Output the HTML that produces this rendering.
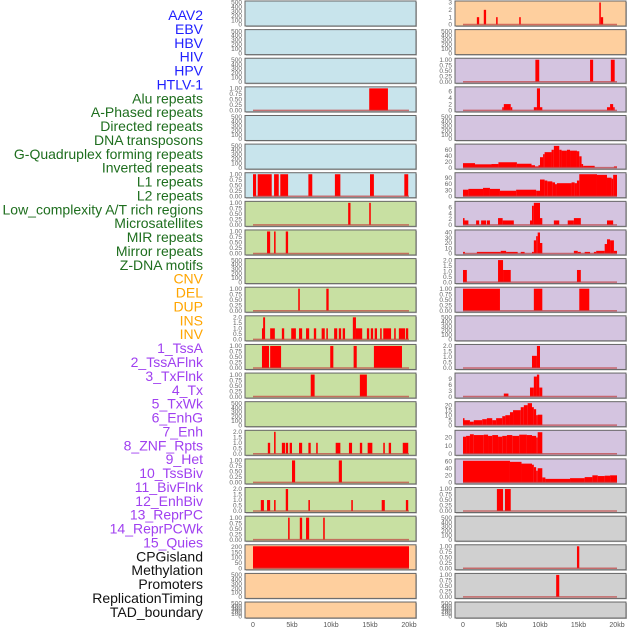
<!DOCTYPE html>
<html><head><meta charset="utf-8">
<style>
body{margin:0;background:#fff;}
svg{display:block;font-family:"Liberation Sans",sans-serif;}
</style></head>
<body>
<svg id="chart" width="630" height="630" viewBox="0 0 630 630" xmlns="http://www.w3.org/2000/svg">
<g id="labels"></g><g id="panels"></g>
</svg>
<script>
const trackLabels = ["AAV2","EBV","HBV","HIV","HPV","HTLV-1","Alu repeats","A-Phased repeats","Directed repeats","DNA transposons","G-Quadruplex forming repeats","Inverted repeats","L1 repeats","L2 repeats","Low_complexity A/T rich regions","Microsatellites","MIR repeats","Mirror repeats","Z-DNA motifs","CNV","DEL","DUP","INS","INV","1_TssA","2_TssAFlnk","3_TxFlnk","4_Tx","5_TxWk","6_EnhG","7_Enh","8_ZNF_Rpts","9_Het","10_TssBiv","11_BivFlnk","12_EnhBiv","13_ReprPC","14_ReprPCWk","15_Quies","CPGisland","Methylation","Promoters","ReplicationTiming","TAD_boundary"];
const labelColors = ["#2020ff","#1e6e1e","#ffa500","#a040f0","#111"];
const labelGroups = [0,0,0,0,0,0,1,1,1,1,1,1,1,1,1,1,1,1,1,2,2,2,2,2,3,3,3,3,3,3,3,3,3,3,3,3,3,3,3,4,4,4,4,4];
const xTickLabels = ["0","5kb","10kb","15kb","20kb"];
const xTickValues = [0,5,10,15,20];

const tickE = [0,100,200,300,400,500];
const tick1 = [0,0.25,0.5,0.75,1];
const tick2 = [0,0.5,1,1.5,2];

// left column
const leftBg = ["#c8e4ec","#c8e4ec","#c8e4ec","#c8e4ec","#c8e4ec","#c8e4ec","#c8e4ec",
 "#c8e0a2","#c8e0a2","#c8e0a2","#c8e0a2","#c8e0a2","#c8e0a2","#c8e0a2","#c8e0a2","#c8e0a2","#c8e0a2","#c8e0a2","#c8e0a2",
 "#fecf9e","#fecf9e","#fecf9e"];
const leftTicks = [tickE,tickE,tickE,tick1,tickE,tickE,tick1,tick1,tick1,tickE,tick1,tick2,tick1,tick1,tickE,tick2,tick1,tick2,tick1,[0,50,100,150,200],tickE,tickE];
const leftMax = [500,500,500,1,500,500,1,1,1,500,1,2,1,1,500,2,1,2,1,205,500,500];
const leftSegs = [
 [],[],[],
 [[14.9,17.3,1]],
 [],[],
 [[0,0.4,1],[0.6,2.4,1],[2.7,3.3,1],[3.5,4.5,1],[7.1,7.6,1],[10.5,11.2,1],[15,15.5,1],[19.4,19.9,1]],
 [[12.2,12.5,1],[14.9,15.1,1]],
 [[1.8,2.2,1],[2.7,2.9,1],[4.2,4.5,1]],
 [],
 [[5.8,6.0,1],[9.4,9.7,1]],
 [[1.15,1.3,1],[1.3,1.55,2],[2.2,2.8,1],[3.7,4.0,1],[4.9,5.5,1],[5.9,6.3,1],[6.8,7.2,1],[7.8,8.1,1],[8.8,9.2,1],[9.4,9.6,1],[10.4,10.8,1],[11.0,11.3,1],[11.5,11.8,1],[12.8,13.2,2],[13.2,14.0,1],[14.6,14.9,1],[15.1,15.4,1],[15.6,15.9,1],[16.3,16.5,1],[16.7,17.7,1],[18.1,18.3,1],[18.7,19.5,1],[19.6,19.9,1]],
 [[1.15,2.05,1],[2.2,3.6,1],[9.9,10.3,1],[12.9,13.3,1],[15.5,19.1,1]],
 [[7.4,7.9,1],[13.7,14.6,1]],
 [],
 [[1.9,2.2,1],[2.7,2.9,2],[3.7,4.1,1],[4.2,4.5,1],[4.7,5.0,1],[5.9,6.3,1],[7.1,7.4,1],[8.1,8.3,1],[10.6,11.2,1],[12.3,12.7,1],[13.7,14.0,1],[14.7,15.3,1],[16.7,16.9,1],[17.4,17.7,1],[19.2,19.9,1]],
 [[5.0,5.4,1],[11.0,11.4,1]],
 [[1.0,1.4,1],[1.8,2.2,1],[2.7,2.9,1],[4.2,4.5,2],[7.1,7.3,1],[12.6,12.8,1],[16.5,16.9,1],[19.6,19.9,1]],
 [[4.5,4.7,1],[6.0,6.3,1],[6.8,7.2,1],[9.0,9.2,1]],
 [[0,20,205]],
 [],[]
];

// right column
const rightBg = ["#fecf9e","#fecf9e","#d4c4e0","#d4c4e0","#d4c4e0","#d4c4e0","#d4c4e0","#d4c4e0","#d4c4e0","#d4c4e0","#d4c4e0","#d4c4e0","#d4c4e0","#d4c4e0","#d4c4e0","#d4c4e0","#d4c4e0",
 "#d0d0d0","#d0d0d0","#d0d0d0","#d0d0d0","#d0d0d0"];
const rightTicks = [[0,1,2,3],tickE,tick1,[0,2,4,6],tickE,[0,20,40,60],[0,30,60,90],[0,2,4,6],[0,10,20,30,40],tick2,tick1,tickE,tick2,[0,3,6,9],[0,5,10,15,20],[0,10,20],[0,20,40,60],tick1,tickE,tick1,tick1,tickE];
const rightMax = [3,500,1,7,500,74,108,7.5,42,2,1,500,2,11,22,27,62,1,500,1,1,500];
const rightSegs = [
 [[1.8,2.1,1],[2.7,3.0,2],[4.3,4.5,1],[7.3,7.5,1],[17.7,17.9,3],[17.9,18.2,1]],
 [],
 [[9.4,9.9,1],[16.5,16.9,1],[19.2,19.7,1]],
 [[5.1,5.3,1],[5.3,6.2,2],[6.2,6.4,1],[9.2,9.6,1],[9.6,10.0,7],[10.0,10.3,1],[18.7,19.1,1],[19.1,19.5,2],[19.5,19.7,1]],
 [],
 [[0,1.56,15],[1.56,3.7,11],[3.7,4.6,12],[4.6,7.0,18],[7.0,8.9,13],[8.9,9.35,8],[9.35,9.8,4],[9.8,10.0,8],[10.0,10.4,35],[10.4,10.6,45],[10.6,11.5,52],[11.5,11.8,60],[11.8,12.5,73],[12.5,12.8,60],[12.8,13.5,57],[13.5,13.9,60],[13.9,14.8,57],[14.8,15.1,55],[15.1,15.4,38],[15.4,15.6,12],[15.6,17.1,6],[19.6,20,4]],
 [[0,0.7,32],[0.7,2.6,36],[2.6,3.5,41],[3.5,4.8,36],[4.8,6.9,27],[6.9,9.5,32],[9.5,10.0,27],[10.0,10.6,82],[10.6,10.95,77],[10.95,11.6,73],[11.6,11.95,68],[11.95,12.2,59],[12.2,14.1,64],[14.1,14.5,68],[14.5,14.8,64],[14.8,15.1,77],[15.1,17.4,108],[17.4,18.7,105],[18.7,19.3,91],[19.3,19.5,86],[19.5,20,105]],
 [[0,0.2,2.3],[0.2,0.7,1.5],[1.7,2.1,1.5],[2.35,3.0,1.5],[3.1,3.5,1.5],[4.55,5.15,2.3],[5.15,6.6,1.5],[8.7,8.96,1.5],[8.96,9.2,6.5],[9.2,10.0,7.5],[10.0,10.3,2.3],[11.8,12.5,1.5],[13.6,14.4,1.5],[14.4,15.3,2.3],[18.7,19.5,1.5]],
 [[0,0.25,3],[1.8,4.9,3],[4.9,5.6,5],[5.6,7.1,3],[7.5,8.0,3],[8.96,9.2,3],[9.2,9.5,25],[9.5,9.7,33],[9.7,10.0,40],[10.0,10.3,20],[14.4,14.9,5],[14.9,15.3,3],[15.8,16.5,3],[17.0,17.3,3],[17.3,18.4,5],[18.4,18.7,18],[18.7,19.1,27],[19.1,19.6,25],[19.6,20,5]],
 [[0,0.5,1.1],[4.55,5.2,2],[5.2,6.2,1.1],[14.8,15.3,1.1]],
 [[0,4.8,1],[9.2,10.3,1],[15.1,16.4,1]],
 [],
 [[8.96,9.6,1.1],[9.6,10.0,2]],
 [[5.3,5.9,1.5],[8.7,9.2,4.5],[9.2,9.6,10],[9.6,9.9,11],[9.9,10.3,4.5]],
 [[0,0.13,7],[0.13,0.9,5],[0.9,1.4,3.5],[1.4,2.5,5],[2.5,3.1,6],[3.1,3.8,7],[3.8,4.3,5],[4.3,5.1,7],[5.1,5.5,9],[5.5,6.1,10],[6.1,6.5,13],[6.5,7.5,15],[7.5,7.9,18],[7.9,8.4,20],[8.4,8.96,22],[8.96,9.2,18],[9.2,9.5,16],[9.5,9.7,10],[9.7,10.3,10.5]],
 [[0,0.4,21],[0.4,0.9,22],[0.9,1.4,24],[1.4,2.7,23],[2.7,3.25,23.5],[3.25,3.8,22],[3.8,4.55,23],[4.55,5.1,21],[5.1,5.7,22],[5.7,6.4,23],[6.4,7.3,22],[7.3,8.3,23.5],[8.3,8.96,23],[8.96,9.5,22],[9.5,9.7,20],[9.7,10.3,26.5]],
 [[0,6.1,61],[6.1,7.6,58],[7.6,8.96,53],[8.96,9.2,50],[9.2,9.5,43],[9.5,9.7,33],[9.7,10.3,40],[10.3,10.7,14],[10.7,13.9,10],[13.9,15.8,12],[15.8,16.8,15],[16.8,17.5,20],[17.5,18.4,18],[18.4,19.1,19],[19.1,20,20]],
 [[4.4,5.2,1],[5.45,6.2,1]],
 [],
 [[14.8,15.1,1]],
 [[12.1,12.5,1]],
 []
];

const NS = "http://www.w3.org/2000/svg";
function mk(tag, attrs, parent){const e=document.createElementNS(NS,tag);for(const k in attrs)e.setAttribute(k,attrs[k]);parent.appendChild(e);return e;}
function fmtTick(v, ticks){
  const mx = ticks[ticks.length-1];
  if(mx===1) return v.toFixed(2);
  if(mx===2) return v.toFixed(1);
  return String(v);
}
const labelsG = document.getElementById('labels');
trackLabels.forEach((t,i)=>{
  const el = mk('text',{x:203,y:15+i*13.88+5,'text-anchor':'end','font-size':'14',fill:labelColors[labelGroups[i]]},labelsG);
  el.textContent = t;
  
  
});

const panelsG = document.getElementById('panels');
function rowTop(i){return 1+i*28.62;}
function rowH(i){return i===21?16:25;}
function drawColumn(colName, px0, pw, x0, xs, bgs, ticks, maxes, segs){
  for(let i=0;i<22;i++){
    const top=rowTop(i), h=rowH(i);
    const g = mk('g',{},panelsG);
    
    
    mk('rect',{x:px0+1,y:top+1,width:pw,height:h,fill:'#bbb'},g);
    mk('rect',{x:px0,y:top,width:pw,height:h,fill:bgs[i],stroke:'#666','stroke-width':1},g);
    const base = top+h-1.5, span = h-3;
    const ys = v => base - v/maxes[i]*span;
    const xf = k => x0 + k*xs;
    segs[i].forEach(s=>{
      const b = mk('rect',{x:xf(s[0]),y:ys(s[2]),width:Math.max(1.5,xf(s[1])-xf(s[0])),height:base-ys(s[2]),fill:'#ff0000'},g);
      
      
    });
    if(maxes[i]!==500){
      mk('line',{x1:xf(0),x2:xf(20),y1:base,y2:base,stroke:'#c04040','stroke-width':1.5,'stroke-opacity':0.7},g);
    }
    ticks[i].forEach(v=>{
      const ty = ys(v);
      const tl = mk('text',{x:px0-3,y:ty+2.2,'text-anchor':'end','font-size':'6.5',fill:'#666'},g);
      tl.textContent = fmtTick(v, ticks[i]);
      
      
    });
  }
  xTickValues.forEach((v,j)=>{
    const t = mk('text',{x:x0+v*xs,y:627,'text-anchor':'middle','font-size':'7',fill:'#555'},panelsG);
    t.textContent = xTickLabels[j];
    
    
  });
}
drawColumn('left', 245, 171, 253, 7.8, leftBg, leftTicks, leftMax, leftSegs);
drawColumn('right', 455, 171, 463, 7.7, rightBg, rightTicks, rightMax, rightSegs);
</script>
</body></html>
